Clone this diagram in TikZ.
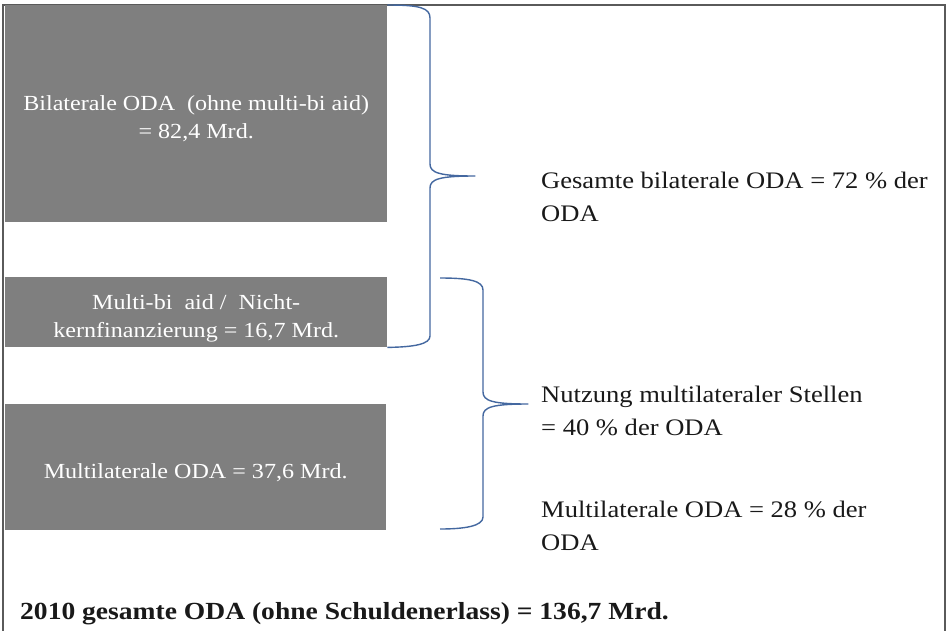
\documentclass[tikz,border=0pt]{standalone}
\usepackage{fontspec}
\setmainfont{Liberation Serif}[FakeStretch=1.12]
\definecolor{boxgray}{HTML}{7F7F7F}
\definecolor{bracecol}{HTML}{4468A0}
\definecolor{framecol}{HTML}{5A5A5A}
\begin{document}
\begin{tikzpicture}[x=1pt,y=-1pt,
  graybox/.style={fill=boxgray, draw=none, anchor=north west, inner sep=0pt},
  boxtext/.style={text=white, align=center, inner sep=0pt,
    font=\fontsize{21.5}{28.5}\selectfont},
  brace/.style={draw=bracecol, line width=1.4pt, line join=round},
  righttext/.style={anchor=base west, inner sep=0pt, align=left,
    text=black!90, font=\fontsize{23.7}{32.5}\selectfont}]
\useasboundingbox (0,0) rectangle (948,630);
\fill[white] (0,0) rectangle (948,630);
\draw[framecol, line width=1.6pt] (3,635) -- (3,5) -- (945,5) -- (945,635);

\node[graybox, minimum width=382pt, minimum height=217pt] (bil) at (5,5) {};
\node[graybox, minimum width=382pt, minimum height=70pt] (mb) at (5,277) {};
\node[graybox, minimum width=381pt, minimum height=126pt] (mul) at (5,404) {};

\node[boxtext] (bilt) at ([yshift=-5pt]bil.center)
  {Bilaterale ODA\ \ (ohne multi-bi aid)\\= 82,4 Mrd.};
\node[boxtext] (mbt) at ([yshift=-6pt]mb.center)
  {Multi-bi\ \ aid /\ \ Nicht-\\kernfinanzierung = 16,7 Mrd.};
\node[boxtext] (mult) at ([yshift=-5pt]mul.center)
  {Multilaterale ODA = 37,6 Mrd.};

% brace 1
\coordinate (b1top) at (bil.north east);
\coordinate (b1bot) at (mb.south east);
\coordinate (b1tip) at (475,176);
\draw[brace] (b1top) .. controls (420,5) and (430,8) .. (430,18) -- (430,164)
  .. controls (430,173) and (440,176) .. (b1tip)
  .. controls (440,176) and (430,179) .. (430,188) -- (430,336)
  .. controls (430,344) and (415,347) .. (b1bot);

% brace 2
\coordinate (b2top) at (440,278);
\coordinate (b2bot) at (440,529);
\coordinate (b2tip) at (528,404);
\draw[brace] (b2top) .. controls (470,278) and (483,281) .. (483,290) -- (483,392)
  .. controls (483,401) and (493,404) .. (b2tip)
  .. controls (493,404) and (483,407) .. (483,416) -- (483,517)
  .. controls (483,526) and (465,529) .. (b2bot);

\node[righttext] (t1) at (541,221) {Gesamte bilaterale ODA = 72 \% der\\ODA};
\node[righttext] (t2) at (541,435) {Nutzung multilateraler Stellen\\= 40 \% der ODA};
\node[righttext] (t3) at (541,550) {Multilaterale ODA = 28 \% der\\ODA};

\node[anchor=base west, inner sep=0pt, text=black!90,
  font=\fontsize{24.6}{28}\selectfont\bfseries] (total) at (20,619)
  {2010 gesamte ODA (ohne Schuldenerlass) = 136,7 Mrd.};
\end{tikzpicture}
\end{document}
